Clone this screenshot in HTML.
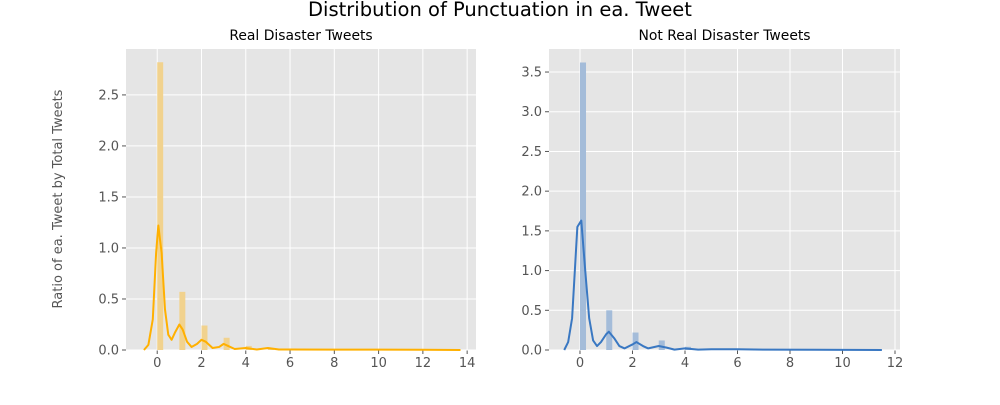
<!DOCTYPE html>
<html><head><meta charset="utf-8"><style>
body{margin:0;background:#fff;font-family:"Liberation Sans","DejaVu Sans",sans-serif}
svg text{font-family:"DejaVu Sans","Liberation Sans",sans-serif}
</style></head><body>
<svg id="c" width="1000" height="400"></svg>
<script>
const leftBarX=[0,1,2,3,4,5,8,10,13];
const leftBarY=[2.82,0.57,0.24,0.12,0.04,0.02,0.01,0.01,0.01];
const leftKdeX=[-0.6,-0.4,-0.2,-0.05,0.05,0.2,0.35,0.5,0.65,0.8,1.0,1.15,1.35,1.55,1.8,2.0,2.2,2.5,2.8,3.0,3.2,3.5,4.0,4.5,5.0,5.5,6,8,10,12,13.7];
const leftKdeY=[0,0.05,0.3,0.95,1.22,0.95,0.4,0.15,0.1,0.17,0.25,0.2,0.08,0.03,0.06,0.1,0.08,0.02,0.03,0.06,0.04,0.01,0.02,0.005,0.02,0.005,0.005,0.004,0.004,0.003,0];
const rightBarX=[0,1,2,3,4,6];
const rightBarY=[3.62,0.5,0.22,0.12,0.04,0.01];
const rightKdeX=[-0.6,-0.45,-0.3,-0.1,0.05,0.2,0.35,0.5,0.65,0.8,1.0,1.1,1.3,1.5,1.7,2.0,2.15,2.4,2.6,3.0,3.3,3.6,4.0,4.5,5,6,7,9,11.5];
const rightKdeY=[0,0.1,0.4,1.55,1.63,1.0,0.4,0.12,0.05,0.1,0.2,0.23,0.15,0.05,0.02,0.07,0.1,0.05,0.02,0.05,0.03,0.005,0.02,0.005,0.01,0.01,0.005,0.003,0];
const leftXTicks=[0,2,4,6,8,10,12,14], leftYTicks=[0,0.5,1.0,1.5,2.0,2.5];
const rightXTicks=[0,2,4,6,8,10,12], rightYTicks=[0,0.5,1.0,1.5,2.0,2.5,3.0,3.5];
const svg=document.getElementById('c');const NS='http://www.w3.org/2000/svg';
function mk(t,a,p){const e=document.createElementNS(NS,t);for(const k in a)e.setAttribute(k,a[k]);(p||svg).appendChild(e);return e;}
function panel(o){
 const g=mk('g',{});
 
 
 const X=v=>o.x0+(v-o.xmin)/(o.xmax-o.xmin)*(o.x1-o.x0);
 const Y=v=>o.y0-(v-o.ymin)/(o.ymax-o.ymin)*(o.y0-o.y1);
 const bg=mk('rect',{x:o.x0,y:o.y1,width:o.x1-o.x0,height:o.y0-o.y1,fill:'#e5e5e5'},g);
 
 o.xt.forEach(t=>{mk('line',{x1:X(t),x2:X(t),y1:o.y1,y2:o.y0,stroke:'#fff','stroke-width':1},g);
  mk('line',{x1:X(t),x2:X(t),y1:o.y0,y2:o.y0+4,stroke:'#555'},g);
  const tx=mk('text',{x:X(t),y:o.y0+17,'text-anchor':'middle','font-size':13,fill:'#555'},g);tx.textContent=t;
  });
 o.yt.forEach(t=>{mk('line',{x1:o.x0,x2:o.x1,y1:Y(t),y2:Y(t),stroke:'#fff','stroke-width':1},g);
  mk('line',{x1:o.x0-4,x2:o.x0,y1:Y(t),y2:Y(t),stroke:'#555'},g);
  const tx=mk('text',{x:o.x0-7,y:Y(t)+4.5,'text-anchor':'end','font-size':13,fill:'#555'},g);tx.textContent=t.toFixed(1);
  });
 o.bx.forEach((v,i)=>{const r=mk('rect',{x:X(v),y:Y(o.by[i]),width:X(v+o.bw)-X(v),height:Y(0)-Y(o.by[i]),fill:o.bc},g);
  });
 const p=mk('polyline',{points:o.kx.map((v,i)=>X(v)+','+Y(o.ky[i])).join(' '),fill:'none',stroke:o.lc,'stroke-width':2,'stroke-linejoin':'round'},g);
 
 const ti=mk('text',{x:(o.x0+o.x1)/2,y:40,'text-anchor':'middle','font-size':13.9,fill:'#000'},g);ti.textContent=o.title;
 
}
panel({name:'real-disaster-panel',title:'Real Disaster Tweets',x0:126,x1:476,y0:350,y1:49,xmin:-1.41,xmax:14.4,ymin:0,ymax:2.95,
 xt:leftXTicks,yt:leftYTicks,bx:leftBarX,by:leftBarY,bw:0.27,bc:'#f1d28e',kx:leftKdeX,ky:leftKdeY,lc:'#ffb000'});
panel({name:'not-real-disaster-panel',title:'Not Real Disaster Tweets',x0:549,x1:900,y0:350,y1:49,xmin:-1.18,xmax:12.19,ymin:0,ymax:3.79,
 xt:rightXTicks,yt:rightYTicks,bx:rightBarX,by:rightBarY,bw:0.23,bc:'#a4bcd9',kx:rightKdeX,ky:rightKdeY,lc:'#3a78c2'});
const t=mk('text',{x:500,y:16,'text-anchor':'middle','font-size':19.5,fill:'#000'});t.textContent='Distribution of Punctuation in ea. Tweet';

const yl=mk('text',{x:62,y:199,'text-anchor':'middle','font-size':13,fill:'#555',transform:'rotate(-90 62 199)'});yl.textContent='Ratio of ea. Tweet by Total Tweets';

</script>
</body></html>
